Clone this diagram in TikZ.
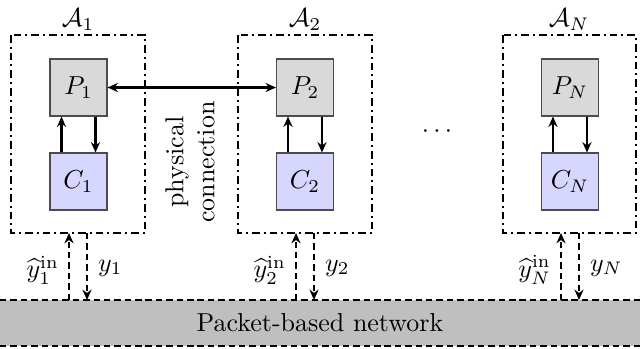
\documentclass[tikz,border=0pt]{standalone}
\usetikzlibrary{arrows.meta}
\definecolor{pgray}{HTML}{D9D9D9}
\definecolor{cblue}{HTML}{D6D6FF}
\definecolor{netgray}{HTML}{BFBFBF}
\begin{document}
\begin{tikzpicture}[x=0.385pt,y=-0.385pt,
  blk/.style={draw=black!70,minimum width=57*0.385pt,minimum height=57*0.385pt,inner sep=0pt},
  pblk/.style={blk,fill=pgray},
  cblk/.style={blk,fill=cblue},
  agent/.style={draw,thick,dash pattern=on 3pt off 1.5pt on 0.8pt off 1.5pt},
  sig/.style={thick,-{Stealth[length=4pt,width=3.5pt]}},
  net/.style={thick,dash pattern=on 2.5pt off 1.5pt},
  netsig/.style={net,-{Stealth[length=4pt,width=3.5pt]}}]
\useasboundingbox (0,0) rectangle (640,348);
% network
\fill[netgray] (0,300) rectangle (640,346);
\node (net) at (320,323) {Packet-based network};
\draw[net] (0,300) -- (640,300);
\draw[net] (0,346) -- (640,346);
% agent boxes
\foreach \n/\l/\r/\lab/\sub in {1/11/145/1/1, 2/238/372/2/2, 3/503/636/N/N}{
  \draw[agent] (\l,35) rectangle (\r,233);
}
\node (A1) at (78,20) {$\mathcal{A}_1$};
\node (A2) at (305,20) {$\mathcal{A}_2$};
\node (AN) at (569,20) {$\mathcal{A}_N$};
% blocks
\node[pblk] (P1) at (78.5,87.5) {$P_1$};
\node[cblk] (C1) at (78.5,181.5) {$C_1$};
\node[pblk] (P2) at (305,87.5) {$P_2$};
\node[cblk] (C2) at (305,181.5) {$C_2$};
\node[pblk] (PN) at (570,87.5) {$P_N$};
\node[cblk] (CN) at (570,181.5) {$C_N$};
% local loops
\foreach \P/\C in {P1/C1,P2/C2,PN/CN}{
  \draw[sig] ([xshift=-17*0.385pt]\C.north) -- ([xshift=-17*0.385pt]\P.south);
  \draw[sig] ([xshift=17*0.385pt]\P.south) -- ([xshift=17*0.385pt]\C.north);
}
% physical connection
\draw[thick,{Stealth[length=4pt,width=3.5pt]}-{Stealth[length=4pt,width=3.5pt]}] (P1.east) -- (P2.east -| P2.west);
\node[rotate=90,align=center,inner sep=0pt] (phys) at (190,162) {physical\\connection};
\node (dots) at (437,132) {$\cdots$};
% network links
\foreach \x/\i in {78/1,305/2,570/N}{
  \coordinate (u\i) at (\x-9,300);
  \coordinate (d\i) at (\x+9,233);
}
\draw[netsig] (u1) -- (u1 |- 0,233);
\draw[netsig] (d1) -- (d1 |- 0,300);
\draw[netsig] (u2) -- (u2 |- 0,233);
\draw[netsig] (d2) -- (d2 |- 0,300);
\draw[netsig] (uN) -- (uN |- 0,233);
\draw[netsig] (dN) -- (dN |- 0,300);
\node[anchor=east,inner sep=1pt] (yh1) at (62,270) {$\widehat{y}_1^{\mathrm{in}}$};
\node[anchor=west,inner sep=1pt] (y1) at (95,268) {$y_1$};
\node[anchor=east,inner sep=1pt] (yh2) at (289,270) {$\widehat{y}_2^{\mathrm{in}}$};
\node[anchor=west,inner sep=1pt] (y2) at (322,268) {$y_2$};
\node[anchor=east,inner sep=1pt] (yhN) at (554,270) {$\widehat{y}_N^{\mathrm{in}}$};
\node[anchor=west,inner sep=1pt] (yN) at (587,268) {$y_N$};
\end{tikzpicture}
\end{document}
